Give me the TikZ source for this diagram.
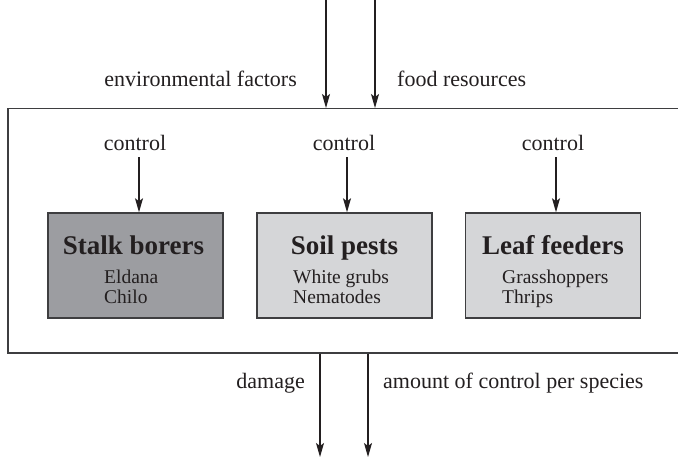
\documentclass[tikz,border=0pt]{standalone}
\usepackage{fontspec}
\setmainfont{Liberation Serif}
\usetikzlibrary{arrows.meta}
\definecolor{ink}{HTML}{231F20}
\definecolor{darkfill}{HTML}{9C9DA1}
\definecolor{lightfill}{HTML}{D5D6D8}
\definecolor{edge}{HTML}{3E3E40}
\tikzset{
  arr/.style={draw=ink, line width=1.2pt, -{Stealth[length=14pt,width=8pt,inset=3pt]}},
  lbl/.style={inner sep=0pt, text=ink, font=\fontsize{22}{24}\selectfont},
  ttl/.style={inner sep=0pt, text=ink, font=\fontsize{27}{30}\selectfont\bfseries, anchor=base},
  sub/.style={inner sep=0pt, text=ink, font=\fontsize{19.5}{22}\selectfont, anchor=base west},
  pestbox/.style={draw=edge, line width=1.5pt, minimum width=175pt, minimum height=105pt, inner sep=0pt},
}
\begin{document}
\begin{tikzpicture}[x=1pt,y=-1pt]
\useasboundingbox[fill=white] (0,0) rectangle (678,460);
% outer box (right edge beyond the picture)
\node[draw=edge, line width=1.5pt, minimum width=690pt, minimum height=244pt, inner sep=0pt, anchor=north west] (outer) at (7,108) {};
% top inputs
\coordinate (t1) at (326,0);
\coordinate (t2) at (375,0);
\node[lbl, anchor=base east] (env) at (297,87) {environmental factors};
\node[lbl, anchor=base west] (food) at (397,87) {food resources};
\draw[arr] (t1) -- (t1 |- outer.north);
\draw[arr] (t2) -- (t2 |- outer.north);
% boxes
\node[pestbox, fill=darkfill] (sb) at (135.5,265.5) {};
\node[pestbox, fill=lightfill] (sp) at (344.5,265.5) {};
\node[pestbox, fill=lightfill] (lf) at (553,265.5) {};
\node[ttl] (sbt) at (133.5,254) {Stalk borers};
\node[ttl] (spt) at (344.5,254) {Soil pests};
\node[ttl] (lft) at (553,254) {Leaf feeders};
\node[sub] (sb1) at (104,283) {Eldana};
\node[sub] (sb2) at (104,303) {Chilo};
\node[sub] (sp1) at (293,283) {White grubs};
\node[sub] (sp2) at (293,303) {Nematodes};
\node[sub] (lf1) at (502,283) {Grasshoppers};
\node[sub] (lf2) at (502,303) {Thrips};
% control labels and arrows
\node[lbl, anchor=base] (c1) at (135,150) {control};
\node[lbl, anchor=base] (c2) at (344,150) {control};
\node[lbl, anchor=base] (c3) at (553,150) {control};
\coordinate (a1) at (139,157);
\coordinate (a2) at (347,157);
\coordinate (a3) at (556,157);
\draw[arr] (a1) -- (a1 |- sb.north);
\draw[arr] (a2) -- (a2 |- sp.north);
\draw[arr] (a3) -- (a3 |- lf.north);
% outputs
\coordinate (b1) at (320,457);
\coordinate (b2) at (368,457);
\node[lbl, anchor=base east] (dam) at (305,388) {damage};
\node[lbl, anchor=base west] (amt) at (383,388) {amount of control per species};
\draw[arr] (b1 |- outer.south) -- (b1);
\draw[arr] (b2 |- outer.south) -- (b2);
\end{tikzpicture}
\end{document}
